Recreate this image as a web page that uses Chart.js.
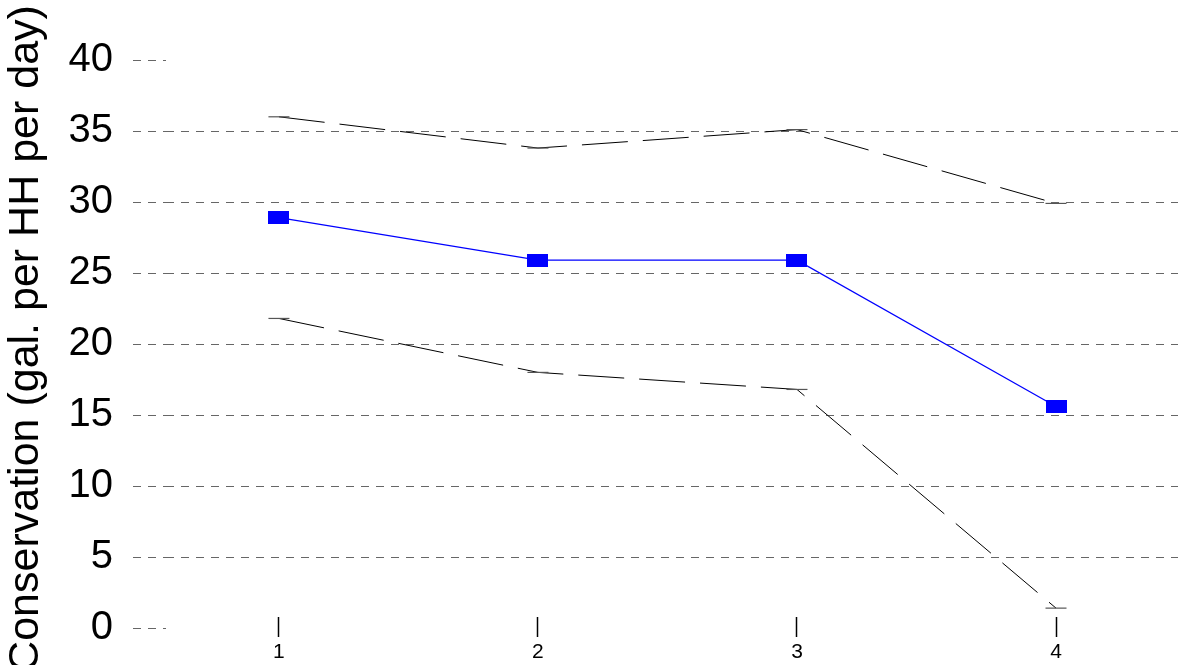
<!DOCTYPE html>
<html lang="en">
<head>
  <meta charset="UTF-8">
  <title>Conservation</title>
  <script src="https://cdn.jsdelivr.net/npm/chart.js@4/dist/chart.umd.min.js"></script>
  <style>
    html, body { margin: 0; padding: 0; background: #fff; overflow: hidden; }
    #wrap { width: 1178px; height: 665px; }
    canvas { display: block; }
  </style>
</head>
<body>
  <div id="wrap"><canvas id="myChart"></canvas></div>

  <script>
    // data
    var periods = [1, 2, 3, 4];
    var meanValues = [28.9, 25.9, 25.9, 15.6];
    var upperValues = [36.0, 33.8, 35.1, 29.9];
    var lowerValues = [21.8, 18.0, 16.8, 1.4];
    var yTickValues = [0, 5, 10, 15, 20, 25, 30, 35, 40];

    var fontFam = "'Liberation Sans', Arial, Helvetica, sans-serif";

    function toPoints(vals) {
      return periods.map(function (p, i) { return { x: p, y: vals[i] }; });
    }

    // filled blue rectangle used as the marker
    var boxMarker = document.createElement('canvas');
    boxMarker.width = 21;
    boxMarker.height = 13;
    var bctx = boxMarker.getContext('2d');
    bctx.fillStyle = '#0000ff';
    bctx.fillRect(0, 0, 21, 13);

    var boundStyle = {
      borderColor: '#000',
      borderWidth: 1,
      borderDash: [46, 15],
      pointStyle: 'line',
      pointRadius: 10.5,
      pointBorderColor: '#555',
      pointBorderWidth: 1.2,
      fill: false,
      tension: 0
    };

    var ctx = document.getElementById('myChart').getContext('2d');
    var myChart = new Chart(ctx, {
      type: 'line',
      data: {
        datasets: [
          Object.assign({ label: 'upper', data: toPoints(upperValues) }, boundStyle),
          Object.assign({ label: 'lower', data: toPoints(lowerValues) }, boundStyle),
          {
            label: 'mean',
            data: toPoints(meanValues),
            borderColor: '#0000ff',
            borderWidth: 1.3,
            pointStyle: boxMarker,
            pointRadius: 10,
            tension: 0
          }
        ]
      },
      options: {
        responsive: true,
        maintainAspectRatio: false,
        animation: false,
        layout: { autoPadding: false, padding: { top: 60, right: 0, left: 0, bottom: 0 } },
        plugins: { legend: { display: false }, tooltip: { enabled: false } },
        scales: {
          x: {
            type: 'linear',
            min: 0.564,
            max: 4.471,
            afterBuildTicks: function (s) {
              s.ticks = periods.map(function (v) { return { value: v }; });
            },
            afterFit: function (s) {
              s.height = 48;
              s.paddingLeft = 0;
              s.paddingRight = 0;
            },
            border: { display: false },
            grid: {
              drawOnChartArea: false,
              tickLength: 20,
              tickColor: '#000',
              tickWidth: 1.5
            },
            ticks: {
              autoSkip: false,
              maxRotation: 0,
              padding: 3,
              color: '#000',
              font: { family: fontFam, size: 21 }
            }
          },
          y: {
            min: 0.775,
            max: 40,
            afterBuildTicks: function (s) {
              s.ticks = yTickValues.map(function (v) { return { value: v }; });
            },
            afterFit: function (s) { s.width = 166; },
            border: { display: false, dash: [8, 7] },
            grid: {
              color: function (c) {
                var v = c.tick ? c.tick.value : null;
                return (v === 0 || v === 40) ? 'rgba(0,0,0,0)' : '#666';
              },
              lineWidth: 1,
              tickLength: 33,
              tickColor: '#666',
              tickBorderDash: [8, 7],
              tickWidth: 1
            },
            ticks: {
              autoSkip: false,
              padding: 20,
              color: '#000',
              font: { family: fontFam, size: 40 }
            },
            title: {
              display: true,
              text: 'Conservation (gal. per HH per day)',
              color: '#000',
              padding: 0,
              font: { family: fontFam, size: 43, weight: 'normal' }
            }
          }
        }
      }
    });
  </script>
</body>
</html>
